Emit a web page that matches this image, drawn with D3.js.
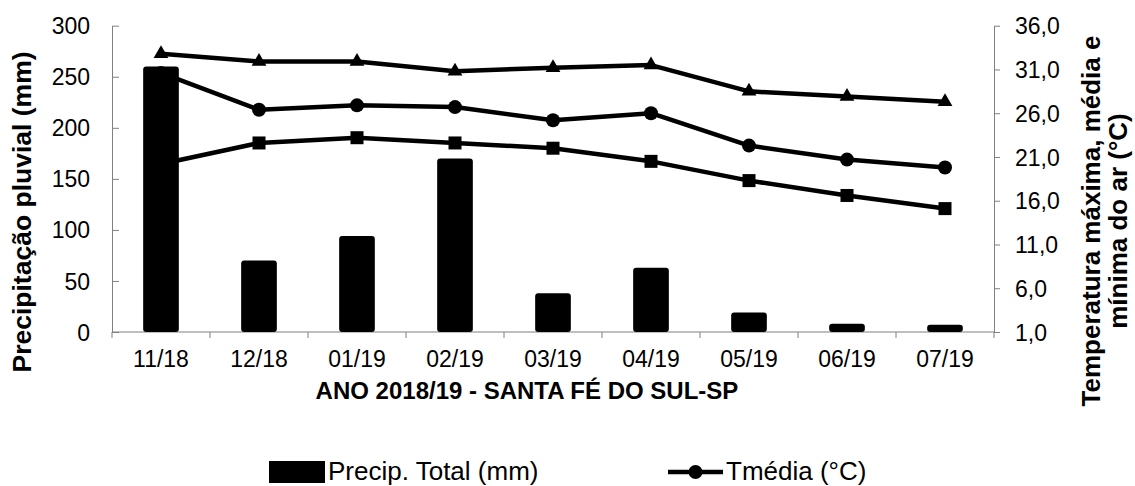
<!DOCTYPE html>
<html>

<head>
	<meta charset="utf-8">
	<title>Precipitação e temperatura - Santa Fé do Sul</title>
	<script src="https://cdn.jsdelivr.net/npm/d3@7/dist/d3.min.js"></script>
	<style>
		body {
			margin: 0;
			background: #fff;
		}

		svg text {
			font-family: "Liberation Sans", Arial, sans-serif;
			fill: #000;
		}

		.axis path,
		.axis line {
			stroke: #808080;
			stroke-width: 1px;
		}

		.tmark {
			fill: #000;
		}
	</style>
</head>

<body>
	<svg id="chart" width="1135" height="486"></svg>

	<script type="text/javascript">
		// values
		var months = ['11/18', '12/18', '01/19', '02/19', '03/19', '04/19', '05/19', '06/19', '07/19'];
		var precip = [260, 70, 94, 170, 38, 63, 19, 8, 7];
		var tmax = [32.8, 31.9, 31.9, 30.8, 31.2, 31.5, 28.5, 27.9, 27.3];
		var tmed = [30.6, 26.4, 26.9, 26.7, 25.2, 26.0, 22.3, 20.7, 19.8];
		var tmin = [20.2, 22.6, 23.2, 22.6, 22.0, 20.5, 18.3, 16.6, 15.1];
		var leftTicks = [0, 50, 100, 150, 200, 250, 300];
		var rightTicks = [1, 6, 11, 16, 21, 26, 31, 36];

		var svg = d3.select('#chart');

		var x = d3.scaleBand()
			.domain(months)
			.range([112, 994])
			.paddingInner(0.636)
			.paddingOuter(0.318);

		var xb = d3.scaleBand()  // bands for axis ticks at boundaries
			.domain(months)
			.range([112, 994]);

		var yL = d3.scaleLinear().domain([0, 300]).range([332, 25.7]);
		var yR = d3.scaleLinear().domain([1, 36]).range([332, 25.7]);

		var comma = d => d3.format('.1f')(d).replace('.', ',');

		// left axis
		var gl = svg.append('g')
			.attr('class', 'axis')
			.attr('transform', 'translate(112,0)')
			.call(d3.axisRight(yL).tickValues(leftTicks).tickSize(7).tickSizeOuter(0));
		gl.selectAll('text').remove();
		gl.selectAll('.tick')
			.append('text')
			.attr('x', -22)
			.attr('dy', '0.35em')
			.attr('text-anchor', 'end')
			.style('font-size', '23px')
			.text(d => d);

		// right axis
		var gr = svg.append('g')
			.attr('class', 'axis')
			.attr('transform', 'translate(994,0)')
			.call(d3.axisRight(yR).tickValues(rightTicks).tickSize(6).tickSizeOuter(0).tickFormat(comma));
		gr.selectAll('text')
			.attr('x', 21)
			.attr('dy', '0.35em')
			.style('font-size', '23px')
			.attr('text-anchor', 'start');

		// x axis
		var gx = svg.append('g')
			.attr('class', 'axis')
			.attr('transform', 'translate(0,332)');
		gx.append('line')
			.attr('x1', 112).attr('x2', 994);
		gx.selectAll('.xt')
			.data(months.concat(['end']))
			.enter()
			.append('line')
			.attr('x1', (d, i) => 112 + i * xb.step())
			.attr('x2', (d, i) => 112 + i * xb.step())
			.attr('y2', 6);
		gx.selectAll('text')
			.data(months)
			.enter()
			.append('text')
			.attr('x', d => xb(d) + xb.bandwidth() / 2)
			.attr('y', 35)
			.attr('text-anchor', 'middle')
			.style('font-size', '23px')
			.text(d => d);

		// bars
		svg.append('g')
			.selectAll('rect')
			.data(precip)
			.enter()
			.append('rect')
			.attr('x', (d, i) => x(months[i]))
			.attr('width', x.bandwidth())
			.attr('y', d => yL(d))
			.attr('height', d => yL(0) - yL(d))
			.attr('rx', 3)
			.attr('fill', '#000');

		var cx = i => xb(months[i]) + xb.bandwidth() / 2;
		var line = d3.line()
			.x((d, i) => cx(i))
			.y(d => yR(d));

		[tmax, tmed, tmin].forEach(s => {
			svg.append('path')
				.datum(s)
				.attr('d', line)
				.attr('fill', 'none')
				.attr('stroke', '#000')
				.attr('stroke-width', 4.5)
				.attr('stroke-linejoin', 'round');
		});

		// markers
		svg.append('g').selectAll('path')
			.data(tmax)
			.enter()
			.append('path')
			.attr('class', 'tmark')
			.attr('transform', (d, i) => 'translate(' + cx(i) + ',' + yR(d) + ')')
			.attr('d', d3.symbol().type(d3.symbolTriangle).size(95));

		svg.append('g').selectAll('circle')
			.data(tmed)
			.enter()
			.append('circle')
			.attr('class', 'tmark')
			.attr('cx', (d, i) => cx(i))
			.attr('cy', d => yR(d))
			.attr('r', 7);

		svg.append('g').selectAll('rect')
			.data(tmin)
			.enter()
			.append('rect')
			.attr('class', 'tmark')
			.attr('x', (d, i) => cx(i) - 6.5)
			.attr('y', d => yR(d) - 6.5)
			.attr('width', 13)
			.attr('height', 13);

		// axis titles
		svg.append('text')
			.attr('transform', 'translate(31,212) rotate(-90)')
			.attr('text-anchor', 'middle')
			.style('font-size', '26.5px')
			.style('font-weight', 'bold')
			.text('Precipitação pluvial (mm)');

		svg.append('text')
			.attr('transform', 'translate(1100,221) rotate(-90)')
			.attr('text-anchor', 'middle')
			.style('font-size', '26px')
			.style('font-weight', 'bold')
			.text('Temperatura máxima, média e');

		svg.append('text')
			.attr('transform', 'translate(1127,221) rotate(-90)')
			.attr('text-anchor', 'middle')
			.style('font-size', '26px')
			.style('font-weight', 'bold')
			.text('mínima do ar (°C)');

		svg.append('text')
			.attr('x', 527)
			.attr('y', 399)
			.attr('text-anchor', 'middle')
			.style('font-size', '24px')
			.style('font-weight', 'bold')
			.text('ANO 2018/19 - SANTA FÉ DO SUL-SP');

		// legend
		var leg = svg.append('g');
		leg.append('rect')
			.attr('x', 269).attr('y', 461)
			.attr('width', 56).attr('height', 22)
			.attr('fill', '#000');
		leg.append('text')
			.attr('x', 328).attr('y', 480)
			.style('font-size', '26px')
			.text('Precip. Total (mm)');
		leg.append('line')
			.attr('x1', 668).attr('x2', 723)
			.attr('y1', 472).attr('y2', 472)
			.attr('stroke', '#000')
			.attr('stroke-width', 4.5);
		leg.append('circle')
			.attr('cx', 695.5).attr('cy', 472).attr('r', 7)
			.attr('fill', '#000');
		leg.append('text')
			.attr('x', 726).attr('y', 480)
			.style('font-size', '26px')
			.text('Tmédia (°C)');
	</script>
</body>

</html>
